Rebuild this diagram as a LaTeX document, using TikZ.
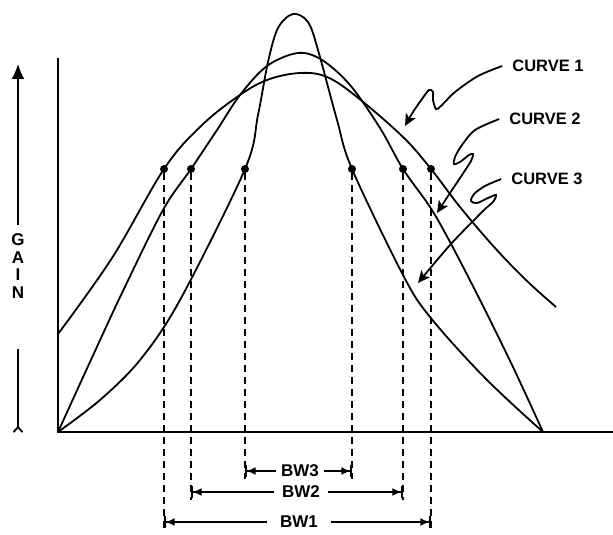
\documentclass[tikz,border=0pt]{standalone}
\usepackage{fontspec}
\setmainfont{Liberation Sans}
\usetikzlibrary{arrows.meta}

\tikzset{
  axis/.style={line width=1.8pt},
  curve/.style={line width=1.8pt},
  drop/.style={line width=1.6pt, dash pattern=on 7pt off 5pt},
  dot/.style={circle, fill, inner sep=0pt, minimum size=8pt},
  word/.style={font=\bfseries\fontsize{16.5}{18}\selectfont, inner xsep=10pt, inner ysep=2pt},
  bwword/.style={word, font=\bfseries\fontsize{17}{19}\selectfont},
  pointer/.style={line width=1.8pt, -{Stealth[length=12pt,width=11pt,inset=3pt]}},
  span/.style={line width=1.6pt, -{Latex[length=9pt,width=8pt]Bar[width=12pt]}}
}

\begin{document}
\begin{tikzpicture}[x=1pt,y=-1pt]
  \useasboundingbox (0,0) rectangle (613,535);
  \coordinate (top) at (58,58);
  \coordinate (origin) at (58,432);
  \coordinate (right) at (613,432);
  \draw[axis] (top) -- (origin) -- (right);

  \node[word, align=center, inner ysep=9pt, font=\bfseries\fontsize{17}{17.5}\selectfont] (gain) at (18,266) {G\\A\\I\\N};
  \coordinate (gaintip) at (18,64);
  \coordinate (gainfoot) at (18,433);
  \draw[axis, -{Latex[length=15pt,width=13pt]}] (gain.north) -- (gaintip);
  \draw[axis, -{Straight Barb[reversed,length=5pt,width=9pt]}] ([yshift=-42pt]gain.south) -- (gainfoot);

  \node[dot] (d1) at (164,169) {};
  \node[dot] (d2) at (191,169) {};
  \node[dot] (d3) at (245,169) {};
  \node[dot] (d4) at (352,169) {};
  \node[dot] (d5) at (403,169) {};
  \node[dot] (d6) at (431,169) {};

  \draw[curve] plot[smooth, tension=0.6] coordinates {(58,334) (112,258) (d1.center) (200,127) (237,97) (267,80) (300,73) (327,77) (357,97) (403,137) (d6.center) (460,207) (495,248) (527,281) (556,307)};
  \draw[curve] plot[smooth, tension=0.55] coordinates {(origin) (90,362) (122,293) (163,210) (d2.center) (217,130) (240,95) (267,66) (298,53) (322,60) (350,85) (380,128) (d5.center) (430,207) (450,242) (480,300) (513,367) (543,432)};
  \draw[curve] plot[smooth, tension=0.55] coordinates {(origin) (100,400) (140,360) (180,300) (d3.center) (258,115) (268,62) (278,28) (293,14) (308,22) (318,50) (337,120) (d4.center) (403,275) (430,317) (485,378) (543,432)};

  \node[word] (c1) at (548,66) {CURVE 1};
  \node[word] (c2) at (545,119) {CURVE 2};
  \node[word] (c3) at (547,179) {CURVE 3};
  \draw[pointer] plot[smooth, tension=0.5] coordinates {(c1.west) (478,76) (455,92) (441,106) (436,109) (433,100) (433,92) (429,90) (422,99) (413,112) (405,126)};
  \draw[pointer] plot[smooth, tension=0.5] coordinates {(c2.west) (475,130) (462,145) (455,157) (454,164) (460,162) (469,155) (473,154) (471,161) (462,175) (450,193) (437,213)};
  \draw[pointer] plot[smooth, tension=0.5] coordinates {(c3.west) (485,186) (474,194) (471,201) (477,203) (488,198) (496,195) (493,202) (483,211) (450,245) (418,283)};

  \node[bwword, inner xsep=5pt] (bw3) at (300,471) {BW3};
  \node[bwword, inner xsep=8pt] (bw2) at (301,492) {BW2};
  \node[bwword, inner xsep=13pt] (bw1) at (299,522) {BW1};

  \draw[drop] (d1) -- (d1 |- bw1.south);
  \draw[drop] (d2) -- (d2 |- bw2.south);
  \draw[drop] (d3) -- (d3 |- bw3.south);
  \draw[drop] (d4) -- (d4 |- bw3.south);
  \draw[drop] (d5) -- (d5 |- bw2.south);
  \draw[drop] (d6) -- (d6 |- bw1.south);

  \draw[span] (bw3.west) -- (bw3.west -| d3);
  \draw[span] (bw3.east) -- (bw3.east -| d4);
  \draw[span] (bw2.west) -- (bw2.west -| d2);
  \draw[span] (bw2.east) -- (bw2.east -| d5);
  \draw[span] (bw1.west) -- (bw1.west -| d1);
  \draw[span] (bw1.east) -- (bw1.east -| d6);
\end{tikzpicture}
\end{document}
